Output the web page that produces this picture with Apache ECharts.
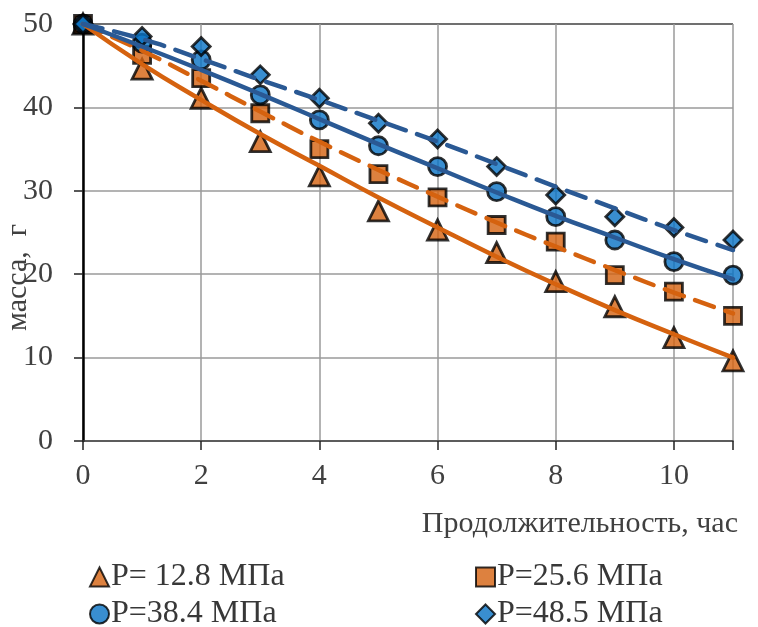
<!DOCTYPE html>
<html>
<head>
<meta charset="utf-8">
<script src="https://cdn.jsdelivr.net/npm/echarts@6/dist/echarts.min.js"></script>
<style>
  html, body { margin: 0; padding: 0; background: #fff; }
  #chart { width: 758px; height: 627px; }
</style>
</head>
<body>
<div id="chart"></div>
<script>
  // время, час
  var hours = [0, 1, 2, 3, 4, 5, 6, 7, 8, 9, 10, 11];

  // измеренная масса, г
  var mass128 = [50, 44.6, 41.1, 35.9, 31.8, 27.6, 25.3, 22.6, 19.1, 16.1, 12.4, 9.6];
  var mass256 = [50, 46.3, 43.5, 39.3, 35.0, 32.0, 29.2, 25.9, 23.9, 19.9, 17.9, 15.0];
  var mass384 = [50, 47.7, 45.7, 41.5, 38.5, 35.4, 32.9, 29.9, 26.9, 24.1, 21.5, 19.9];
  var mass485 = [50, 48.5, 47.3, 43.9, 41.1, 38.1, 36.2, 32.9, 29.5, 26.9, 25.6, 24.1];

  // линии тренда
  var trend128 = [50, 45.2, 40.9, 36.8, 33.0, 29.2, 25.6, 22.1, 18.8, 15.7, 12.8, 10.0];
  var trend256 = [50, 46.8, 43.2, 39.5, 35.9, 32.5, 29.3, 26.2, 23.3, 20.5, 17.8, 15.3];
  var trend384 = [50, 47.3, 44.5, 41.6, 38.6, 35.6, 32.7, 29.8, 27.0, 24.4, 21.8, 19.4];
  var trend485 = [50, 48.2, 45.8, 43.3, 40.9, 38.4, 35.9, 33.2, 30.5, 27.9, 25.3, 22.9];

  var names = ['P= 12.8 МПа', 'P=25.6 МПа', 'P=38.4 МПа', 'P=48.5 МПа'];

  var orange = '#D5620F';
  var blueFill = '#0872C4';
  var blueLine = '#2A5994';
  var font = 'Liberation Serif';

  function pairs(arr) {
    return hours.map(function (h, i) { return [h, arr[i]]; });
  }

  function points(name, arr, symbol, size, color) {
    return {
      name: name,
      type: 'scatter',
      symbol: symbol,
      symbolSize: size,
      data: pairs(arr),
      itemStyle: { color: color, borderColor: '#000', borderWidth: 2.8 },
      z: 2
    };
  }

  function trend(arr, color, dashed) {
    return {
      name: 'trend',
      type: 'line',
      smooth: true,
      showSymbol: false,
      symbol: 'none',
      data: pairs(arr),
      lineStyle: {
        color: color,
        width: 4.5,
        type: dashed ? [20, 12] : 'solid',
        cap: 'round'
      },
      silent: true,
      z: 3
    };
  }

  function legendItem(name, icon, left, top) {
    return {
      left: left,
      top: top,
      itemWidth: 19,
      itemHeight: 19,
      textStyle: { fontSize: 32, fontFamily: font, color: '#383838', padding: [0, 0, 0, -3] },
      data: [{ name: name, icon: icon }]
    };
  }

  var chart = echarts.init(document.getElementById('chart'), null, { renderer: 'canvas' });

  var option = {
    animation: false,
    textStyle: { fontFamily: font },
    grid: { left: 83, right: 25, top: 24, bottom: 186, containLabel: false, outerBoundsMode: 'none' },
    xAxis: {
      type: 'value',
      min: 0,
      max: 11,
      interval: 2,
      axisLine: { show: true, onZero: false, lineStyle: { color: '#404040', width: 1.5 } },
      axisTick: { show: true, length: 9, lineStyle: { color: '#222', width: 1.5 } },
      axisLabel: {
        margin: 20,
        fontSize: 30,
        fontFamily: font,
        color: '#404040',
        formatter: function (v) { return v === 11 ? '' : String(v); }
      },
      splitLine: { show: true, lineStyle: { color: '#9a9a9a', width: 1.5 } }
    },
    yAxis: {
      type: 'value',
      min: 0,
      max: 50,
      interval: 10,
      name: 'масса,  г',
      nameLocation: 'middle',
      nameGap: 50,
      nameRotate: 90,
      nameMoveOverlap: false,
      nameTextStyle: { fontSize: 30, fontFamily: font, color: '#404040', padding: [0, 90, 0, 0] },
      axisLine: { show: true, lineStyle: { color: '#000', width: 2.5 } },
      axisTick: { show: true, length: 9, lineStyle: { color: '#222', width: 1.5 } },
      axisLabel: { margin: 30, fontSize: 30, fontFamily: font, color: '#404040' },
      splitLine: {
        show: true,
        lineStyle: { color: ['#9a9a9a', '#9a9a9a', '#9a9a9a', '#9a9a9a', '#9a9a9a', '#404040'], width: 1.5 }
      }
    },
    legend: [
      legendItem(names[0], 'triangle', 84, 556),
      legendItem(names[2], 'circle', 84, 593),
      legendItem(names[1], 'rect', 470, 556),
      legendItem(names[3], 'diamond', 470, 593)
    ],
    graphic: [
      {
        type: 'text',
        right: 20,
        top: 509,
        style: { text: 'Продолжительность, час', font: '30px "Liberation Serif"', fill: '#404040' }
      }
    ],
    series: [
      points(names[0], mass128, 'triangle', 20, orange),
      points(names[1], mass256, 'rect', 17, orange),
      points(names[2], mass384, 'circle', 18, blueFill),
      points(names[3], mass485, 'diamond', 18, blueFill),
      trend(trend128, orange, false),
      trend(trend256, orange, true),
      trend(trend384, blueLine, false),
      trend(trend485, blueLine, true)
    ]
  };

  option && chart.setOption(option);
</script>
</body>
</html>
